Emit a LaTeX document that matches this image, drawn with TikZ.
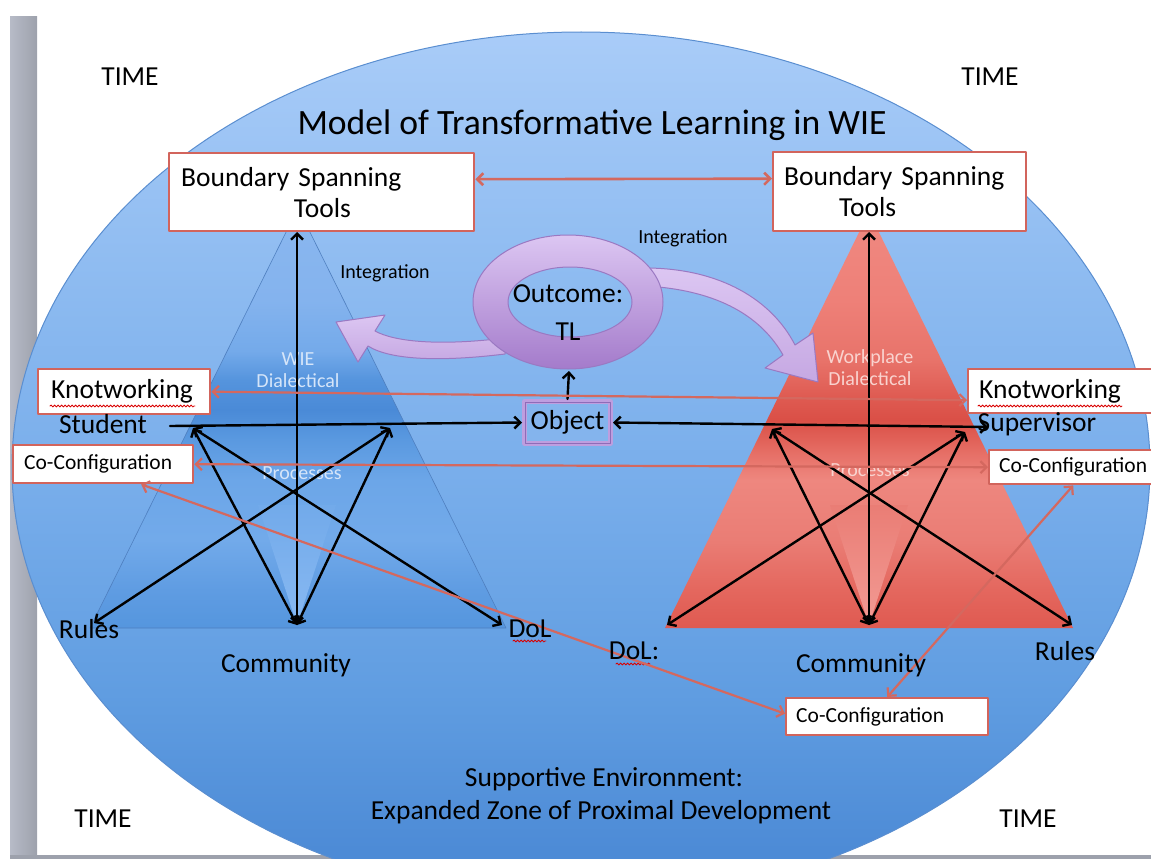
\documentclass[tikz,border=0pt]{standalone}
\usepackage{fontspec}
\setmainfont{Carlito}
\usetikzlibrary{arrows.meta,decorations.pathmorphing}

\definecolor{bgA}{HTML}{A9CCF8}
\definecolor{bgB}{HTML}{8CBAF0}
\definecolor{bgC}{HTML}{76ACEA}
\definecolor{bgD}{HTML}{609DE1}
\definecolor{bgE}{HTML}{4D8BD6}
\definecolor{ellbd}{HTML}{5A8ED0}
\definecolor{ltA}{HTML}{8AB7EF}
\definecolor{ltB}{HTML}{84B3EE}
\definecolor{ltC}{HTML}{74AAEA}
\definecolor{ltD}{HTML}{5594DD}
\definecolor{ltE}{HTML}{4A8AD7}
\definecolor{ltF}{HTML}{5A99E0}
\definecolor{ltG}{HTML}{6CA6E8}
\definecolor{ltH}{HTML}{72AAEA}
\definecolor{ltI}{HTML}{5F9CE2}
\definecolor{ltJ}{HTML}{5596DE}
\definecolor{ltW}{HTML}{88B9F2}
\definecolor{ltbd}{HTML}{4F7FBF}
\definecolor{rtA}{HTML}{F08981}
\definecolor{rtB}{HTML}{EE8078}
\definecolor{rtC}{HTML}{E8736A}
\definecolor{rtD}{HTML}{DF5C53}
\definecolor{rtE}{HTML}{DA4F46}
\definecolor{rtF}{HTML}{E56C63}
\definecolor{rtG}{HTML}{EE877F}
\definecolor{rtH}{HTML}{EA7D75}
\definecolor{rtI}{HTML}{E4675E}
\definecolor{rtJ}{HTML}{DF5A51}
\definecolor{rtW}{HTML}{F29B94}
\definecolor{redbd}{HTML}{D2645C}
\definecolor{redarr}{HTML}{D4685F}
\definecolor{purA}{HTML}{DCC6F2}
\definecolor{purB}{HTML}{A47BCB}
\definecolor{purbd}{HTML}{9A79C2}
\definecolor{purL}{HTML}{BE9EDF}
\definecolor{purD}{HTML}{8E6CB8}
\definecolor{objbg}{HTML}{84B4ED}
\definecolor{greyL}{HTML}{B7BBC7}
\definecolor{greyD}{HTML}{9DA1AC}
\definecolor{txtB}{HTML}{D5E5F9}
\definecolor{txtR}{HTML}{F9D3CF}

\pgfdeclareverticalshading{ellbg}{100bp}{color(0bp)=(bgE); color(28bp)=(bgE); color(37bp)=(bgD); color(48bp)=(bgC); color(60bp)=(bgB); color(75bp)=(bgA); color(100bp)=(bgA)}
\pgfdeclareverticalshading{lefttri}{100bp}{color(0bp)=(ltJ); color(25bp)=(ltJ); color(29.5bp)=(ltI); color(35.5bp)=(ltH); color(42.6bp)=(ltG); color(47.4bp)=(ltF); color(51bp)=(ltE); color(54.5bp)=(ltD); color(58bp)=(ltC); color(64bp)=(ltB); color(75bp)=(ltA); color(100bp)=(ltA)}
\pgfdeclareverticalshading{redtri}{100bp}{color(0bp)=(rtJ); color(25bp)=(rtJ); color(29.6bp)=(rtI); color(35.6bp)=(rtH); color(42.8bp)=(rtG); color(46.4bp)=(rtF); color(50bp)=(rtE); color(53bp)=(rtD); color(57.2bp)=(rtC); color(64.4bp)=(rtB); color(75bp)=(rtA); color(100bp)=(rtA)}

\begin{document}
\begin{tikzpicture}[x=1pt, y=-1pt, line cap=round, line join=round,
  >={Straight Barb[length=6pt,width=12pt]},
  blk/.style={line width=2.4pt, black},
  redln/.style={line width=2.2pt, redarr},
  wbox/.style={draw=redbd, line width=2.4pt, fill=white, inner ysep=0pt, anchor=north west, align=left, font=\fontsize{27.5}{31}\selectfont},
  lbl/.style={inner sep=0pt, font=\fontsize{27.5}{31}\selectfont},
  smlbl/.style={inner sep=0pt, font=\fontsize{20}{24}\selectfont},
  tritxt/.style={inner sep=0pt, font=\fontsize{20}{22}\selectfont},
  squig/.style={draw=red!85!black, line width=0.8pt, decorate, decoration={snake, amplitude=1pt, segment length=3.5pt}},
  purarr/.style={top color=purA, bottom color=purA!60!purB, draw=purbd, line width=1pt}]

  %% ════ 底板：灰边 + 椭圆背景 ════
  \shade[left color=greyL, right color=greyD] (10,17) rectangle (37,859);
  \fill[greyD] (10,855) rectangle (1151,859);
  \shadedraw[shading=ellbg, draw=ellbd, line width=1pt] (581,467) ellipse [x radius=569, y radius=435];

  %% ════ 三角形的角点 ════
  \coordinate (lTop) at (297,232);
  \coordinate (lCom) at (297,625);
  \coordinate (lRul) at (94,623);
  \coordinate (lDol) at (502,625);
  \coordinate (lA) at (193,428);
  \coordinate (lB) at (390,428);
  \coordinate (lStu) at (170,426);
  \coordinate (rTop) at (869,232);
  \coordinate (rCom) at (869,625);
  \coordinate (rDol) at (667,625);
  \coordinate (rRul) at (1072,625);
  \coordinate (rC) at (772,429);
  \coordinate (rD) at (965,432);
  \coordinate (rSup) at (988,427);
  \coordinate (ringS) at (569,371);

  %% ════ 两个三角形（渐变填充）════
  \path[shading=lefttri, draw=ltbd, line width=0.6pt] (298,208) -- (506,628) -- (90,628) -- cycle;
  \shade[top color=ltH, bottom color=ltW] (lCom) -- (258,505) -- (336,505) -- cycle;
  \path[shading=redtri] (869,212) -- (1073,628) -- (665,628) -- cycle;
  \shade[top color=rtH, bottom color=rtW] (rCom) -- (830,505) -- (908,505) -- cycle;

  \node[tritxt, text=txtB] (wieA) at (298,359) {WIE};
  \node[tritxt, text=txtB] (wieB) at (298,381) {Dialectical};
  \node[tritxt, text=txtB] (wieC) at (302,473) {Processes};
  \node[tritxt, text=txtR] (wpA) at (870,358) {Workplace};
  \node[tritxt, text=txtR] (wpB) at (870,379) {Dialectical};
  \node[tritxt, text=txtR] (wpC) at (870,470) {Processes};

  %% ════ 紫色弯箭头 + 圆环 ════
  \path[purarr] (375,331) .. controls (395,342) and (440,346) .. (505,338) -- (505,354)
    .. controls (440,362) and (390,360) .. (368,346) -- (358,362) -- (336,322) -- (385,315) -- cycle;
  \path[purarr] (645,268) .. controls (720,268) and (772,300) .. (795,345) -- (813,333) -- (818,382)
    -- (765,368) -- (783,355) .. controls (762,318) and (720,290) .. (645,286) -- cycle;
  \shade[even odd rule, top color=purA, bottom color=purB] (568,302) ellipse [x radius=95, y radius=67] (570,302) ellipse [x radius=62, y radius=35];
  \draw[purbd, line width=1pt] (568,302) ellipse [x radius=95, y radius=67] (570,302) ellipse [x radius=62, y radius=35];
  \node[lbl, align=center, font=\fontsize{27.5}{38}\selectfont] (outc) at (568,313) {Outcome:\\TL};

  %% ════ 白框 ════
  \node[wbox, inner xsep=12pt, text width=281pt, minimum width=305pt, minimum height=78pt] (bstL) at (168,152)
    {Boundary Spanning\\\hspace*{4.1em}Tools};
  \node[wbox, inner xsep=11pt, text width=231pt, minimum width=253pt, minimum height=79pt] (bstR) at (772,151)
    {Boundary Spanning\\\hspace*{2em}Tools};
  \node[wbox, inner xsep=13pt, text width=146pt, minimum width=172pt, minimum height=45pt] (knotL) at (37,368) {Knotworking};
  \node[wbox, inner xsep=11pt, text width=178pt, minimum width=200pt, minimum height=44pt] (knotR) at (967,368) {Knotworking};
  \node[wbox, inner xsep=11pt, text width=158pt, minimum width=180pt, minimum height=38pt, font=\fontsize{21.5}{24}\selectfont] (coL) at (12,444) {Co-Configuration};
  \node[wbox, inner xsep=10pt, text width=160pt, minimum width=180pt, minimum height=34pt, font=\fontsize{21.5}{24}\selectfont] (coR) at (988,449) {Co-Configuration};
  \node[wbox, inner xsep=10pt, text width=182pt, minimum width=202pt, minimum height=37pt, font=\fontsize{21.5}{24}\selectfont] (coB) at (785,697) {Co-Configuration};
  \node[draw=purL, line width=5pt, fill=objbg, minimum width=86pt, minimum height=42pt, inner sep=0pt, font=\fontsize{27.5}{31}\selectfont] (obj) at (567.5,422.5) {Object};
  \draw[purD, line width=0.8pt] ([shift={(3pt,-3pt)}]obj.north west) rectangle ([shift={(-3pt,3pt)}]obj.south east);

  %% ════ 拼写检查的红波浪线 ════
  \draw[squig] (50,406) -- (195,406);
  \draw[squig] (978,406) -- (1122,406);
  \draw[squig] (513,641) -- (546,641);
  \draw[squig] (616,664) -- (650,664);

  %% ════ 黑色箭头（星形）════
  \draw[blk, <->] (lCom) -- (lTop);
  \draw[blk, <->] (lA) -- (lDol);
  \draw[blk, <->] (lA) -- (lCom);
  \draw[blk, <->] (lB) -- (lRul);
  \draw[blk, <->] (lB) -- (lCom);
  \draw[blk, ->] (lStu) -- (obj.west);
  \draw[blk, <->] (rCom) -- (rTop);
  \draw[blk, <->] (rC) -- (rRul);
  \draw[blk, <->] (rC) -- (rCom);
  \draw[blk, <->] (rD) -- (rDol);
  \draw[blk, <->] (rD) -- (rCom);
  \draw[blk, <->] (obj.east) -- (rSup);
  \draw[blk, ->] (obj.north) -- (ringS);

  %% ════ 红色连线 ════
  \draw[redln, line width=2.6pt, <->] ([yshift=13pt]bstL.east) -- ([yshift=13pt]bstR.west);
  \draw[redln, <->] (knotL.east) -- ([yshift=-9pt]knotR.west);
  \draw[redln, <->] (coL.east) -- (coR.west);
  \draw[redln, <->] ([xshift=38pt]coL.south) -- ([yshift=3pt]coB.west);
  \draw[redln, <->] ([xshift=-6pt]coR.south) -- (coB.north);

  %% ════ 标签 ════
  \node[inner sep=0pt, font=\fontsize{35.6}{40}\selectfont] (title) at (592,125) {Model of Transformative Learning in WIE};
  \node[lbl] (timeA) at (130,77) {TIME};
  \node[lbl] (timeB) at (990,77) {TIME};
  \node[lbl] (timeC) at (103,819) {TIME};
  \node[lbl] (timeD) at (1028,819) {TIME};
  \node[smlbl] (intL) at (385,273) {Integration};
  \node[smlbl] (intR) at (683,238) {Integration};
  \node[lbl] (stu) at (103,424) {Student};
  \node[lbl] (sup) at (1037,424) {Supervisor};
  \node[lbl] (rulL) at (89,629) {Rules};
  \node[lbl] (dolL) at (530,629) {DoL};
  \node[lbl] (comL) at (286,665) {Community};
  \node[lbl] (dolR) at (634,651) {DoL:};
  \node[lbl] (comR) at (861,665) {Community};
  \node[lbl] (rulR) at (1065,651) {Rules};
  \node[lbl] (zpdA) at (604,779) {Supportive Environment:};
  \node[lbl] (zpdB) at (601,812) {Expanded Zone of Proximal Development};

  % 钉死画布
  \pgfresetboundingbox
  \path[use as bounding box] (0,0) rectangle (1151,859);
\end{tikzpicture}
\end{document}
